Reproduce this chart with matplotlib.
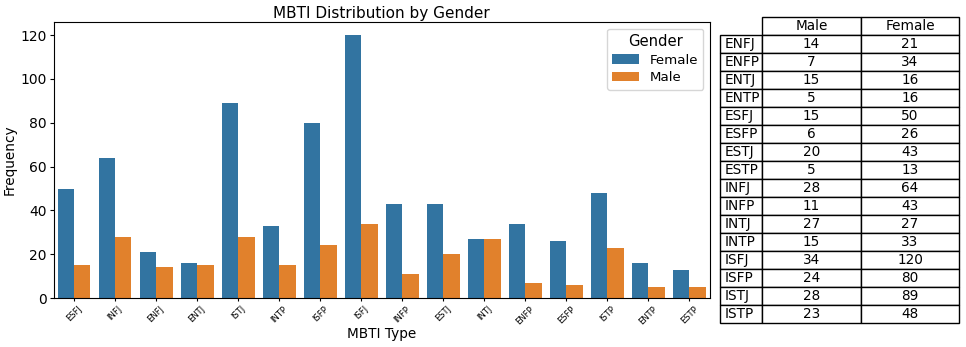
import matplotlib
matplotlib.use("Agg")
import matplotlib.pyplot as plt
import numpy as np

# Bar chart data (order as shown)
bar_types = ["ESFJ", "INFJ", "ENFJ", "ENTJ", "ISTJ", "INTP", "ISFP", "ISFJ",
             "INFP", "ESTJ", "INTJ", "ENFP", "ESFP", "ISTP", "ENTP", "ESTP"]
female_counts = [50, 64, 21, 16, 89, 33, 80, 120, 43, 43, 27, 34, 26, 48, 16, 13]
male_counts = [15, 28, 14, 15, 28, 15, 24, 34, 11, 20, 27, 7, 6, 23, 5, 5]

# Table data (alphabetical)
table_types = ["ENFJ", "ENFP", "ENTJ", "ENTP", "ESFJ", "ESFP", "ESTJ", "ESTP",
               "INFJ", "INFP", "INTJ", "INTP", "ISFJ", "ISFP", "ISTJ", "ISTP"]
table_male = [14, 7, 15, 5, 15, 6, 20, 5, 28, 11, 27, 15, 34, 24, 28, 23]
table_female = [21, 34, 16, 16, 50, 26, 43, 13, 64, 43, 27, 33, 120, 80, 89, 48]
table_cols = ["Male", "Female"]

blue = "#3274a1"
orange = "#e1812c"

fig = plt.figure(figsize=(9.66, 3.47), dpi=100)
ax = fig.add_axes([0.0554, 0.141, 0.6796, 0.7956])

x = np.arange(len(bar_types))
w = 0.4
ax.bar(x - w / 2, female_counts, width=w, color=blue, label="Female")
ax.bar(x + w / 2, male_counts, width=w, color=orange, label="Male")
ax.set_xlim(-0.5, len(bar_types) - 0.5)
ax.set_ylim(0, 126)
ax.set_xticks(x)
ax.set_xticklabels(bar_types, rotation=45, fontsize=6)
ax.tick_params(axis="y", labelsize=10, length=3, pad=1.8)
ax.tick_params(axis="x", length=2.5, pad=2)
ax.set_xlabel("MBTI Type", fontsize=9.8, labelpad=1)
ax.set_ylabel("Frequency", fontsize=9.8, labelpad=2.5)
ax.set_title("MBTI Distribution by Gender", fontsize=11, pad=3)
leg = ax.legend(title="Gender", fontsize=9.6, title_fontsize=10.6,
                loc="upper right", labelspacing=0.35, borderpad=0.4)

# Table
tax = fig.add_axes([0.7453, 0.069, 0.2475, 0.882])
tax.axis("off")
cell_text = [[t, str(m), str(f)] for t, m, f in zip(table_types, table_male, table_female)]
tbl = tax.table(cellText=cell_text, colLabels=[""] + table_cols,
                cellLoc="center", bbox=[0, 0, 1, 1],
                colWidths=[42, 99, 98])
tbl.auto_set_font_size(False)
tbl.set_fontsize(9.8)
tbl[(0, 0)].visible_edges = ""
for r in range(1, len(table_types) + 1):
    tbl[(r, 0)].set_text_props(ha="left")

fig.savefig("out.png", dpi=100)
